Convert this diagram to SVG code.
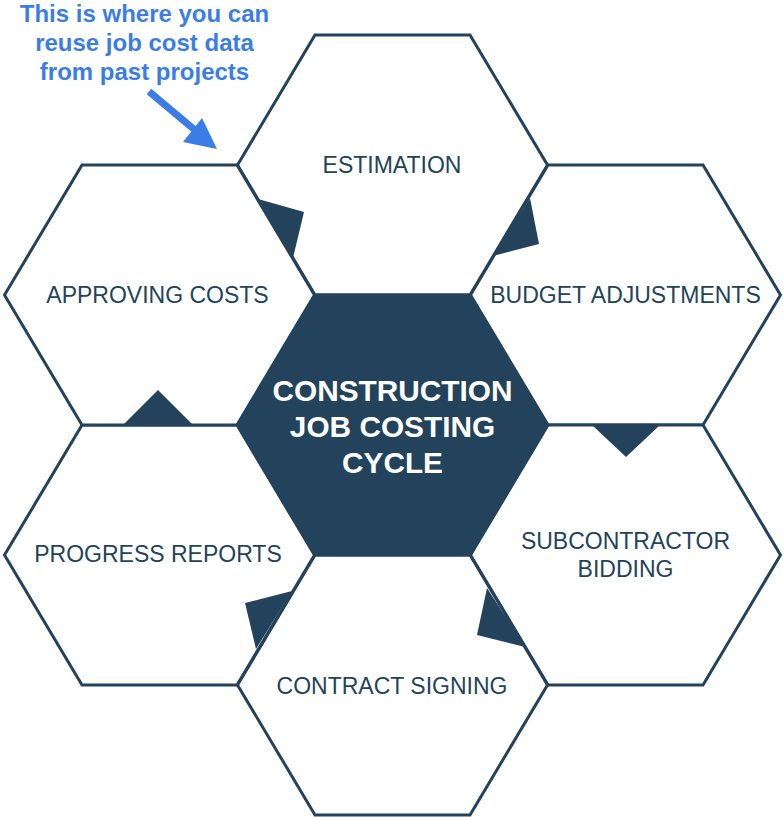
<svg xmlns="http://www.w3.org/2000/svg" width="783" height="817" viewBox="0 0 783 817">
<defs>
<style>
.hex{fill:#ffffff;stroke:#23435c;stroke-width:3;stroke-linejoin:miter}
.core{fill:#23435c;stroke:#23435c;stroke-width:3}
.lbl{font-family:"Liberation Sans",Arial,sans-serif;font-size:23px;fill:#23435c;text-anchor:middle}
.core-lbl{font-family:"Liberation Sans",Arial,sans-serif;font-size:29.8px;font-weight:bold;fill:#ffffff;text-anchor:middle}
.note{font-family:"Liberation Sans",Arial,sans-serif;font-size:24px;font-weight:bold;fill:#3a7de6;text-anchor:middle}
.tri{fill:#23435c;stroke:none}
</style>
<polygon id="hexshape" points="-155,0 -77.5,-130 77.5,-130 155,0 77.5,130 -77.5,130"/>
</defs>
<rect width="783" height="817" fill="#ffffff"/>

<g id="node-estimation">
<use href="#hexshape" class="hex" transform="translate(392.5,165)"/>
<text class="lbl" x="392" y="172.5">ESTIMATION</text>
</g>
<g id="node-budget">
<use href="#hexshape" class="hex" transform="translate(625.5,295)"/>
<text class="lbl" x="625.5" y="302.5">BUDGET ADJUSTMENTS</text>
</g>
<g id="node-subcontractor">
<use href="#hexshape" class="hex" transform="translate(625.5,555)"/>
<text class="lbl" x="625.5" y="548.5">SUBCONTRACTOR</text>
<text class="lbl" x="625.5" y="576.5">BIDDING</text>
</g>
<g id="node-contract">
<use href="#hexshape" class="hex" transform="translate(392.5,685)"/>
<text class="lbl" x="392" y="693.5">CONTRACT SIGNING</text>
</g>
<g id="node-progress">
<use href="#hexshape" class="hex" transform="translate(159.5,555)"/>
<text class="lbl" x="158" y="561.5">PROGRESS REPORTS</text>
</g>
<g id="node-approving">
<use href="#hexshape" class="hex" transform="translate(159.5,295)"/>
<text class="lbl" x="157.5" y="302.5">APPROVING COSTS</text>
</g>
<g id="node-center">
<use href="#hexshape" class="core" transform="translate(392.5,425)"/>
<text class="core-lbl" x="392.5" y="400.5">CONSTRUCTION</text>
<text class="core-lbl" x="392.5" y="436.5">JOB COSTING</text>
<text class="core-lbl" x="392.5" y="472.5">CYCLE</text>
</g>

<g id="connectors">
<polygon class="tri" points="530,198 493,256 539,244"/>
<polygon class="tri" points="592,425 660,425 626,457"/>
<polygon class="tri" points="487,588 525,647 477,635"/>
<polygon class="tri" points="292,591 256,649 245,603"/>
<polygon class="tri" points="123,425 193,425 158,390"/>
<polygon class="tri" points="258,199 293,258 304,212"/>
</g>

<g id="annotation">
<text class="note" x="144.5" y="21.5">This is where you can</text>
<text class="note" x="144.5" y="50.5">reuse job cost data</text>
<text class="note" x="144.5" y="80">from past projects</text>
<line x1="149" y1="91.5" x2="196" y2="131" stroke="#3a7de6" stroke-width="7"/>
<polygon points="217,149 183,142 202,118" fill="#3a7de6"/>
</g>
</svg>
